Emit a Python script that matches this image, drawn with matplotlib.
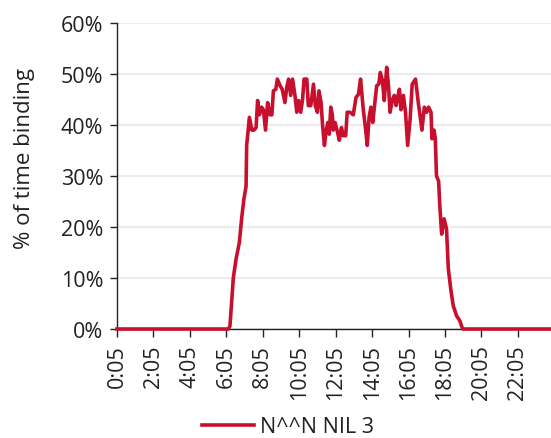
import matplotlib
matplotlib.use("Agg")
import matplotlib.pyplot as plt
from matplotlib.ticker import FixedLocator, PercentFormatter

plt.rcParams["font.family"] = ["Open Sans", "DejaVu Sans"]

# readings: minutes since midnight -> % of time binding
minutes = [5, 372, 377, 388, 397, 408, 416, 423, 430, 432, 441, 449, 456, 463,
           468, 474, 481, 487, 494, 501, 509, 515, 520, 528, 533, 542, 549, 558,
           564, 570, 577, 583, 591, 597, 603, 610, 616, 621, 630, 635, 643, 652,
           658, 665, 670, 677, 682, 688, 693, 699, 704, 709, 714, 717, 723, 731,
           737, 744, 750, 758, 763, 772, 783, 792, 800, 807, 816, 824, 829, 835,
           841, 847, 853, 860, 867, 872, 879, 885, 893, 899, 904, 912, 918, 924,
           929, 935, 940, 948, 955, 962, 970, 977, 988, 997, 1003, 1009, 1017,
           1025, 1031, 1039, 1042, 1049, 1053, 1057, 1064, 1068, 1074, 1082,
           1090, 1096, 1104, 1112, 1123, 1134, 1143, 1440]
binding = [0, 0, 0.6, 10, 13.7, 17, 22, 25.5, 28, 36, 41.5, 39, 39, 39.5,
           44.8, 42, 43.5, 43, 39, 44.4, 42, 42, 46.7, 47, 49, 47.7, 47, 44.4,
           47.4, 49, 45.8, 49, 45.8, 42.5, 44.8, 42.5, 45, 49, 49, 43.8, 43.8, 48,
           43.8, 42.5, 46.7, 44.4, 39.9, 36, 38.6, 40.5, 38.2, 43.5, 42, 39, 40.5, 38.6,
           37, 39.5, 37.9, 37.9, 42.5, 42.5, 42, 45.4, 46, 49, 43, 39, 36, 41.5,
           43.5, 40.5, 43.8, 47.7, 48, 50.3, 48.7, 44.8, 51.3, 47.7, 42.5, 45, 45.8, 43.8,
           45.4, 47, 43, 45.8, 42.5, 36, 41, 48, 49, 44.4, 41.8, 39, 43.5,
           42.5, 43.5, 42.5, 37.3, 39, 37.3, 30, 29, 24, 18.6, 21.6,
           19.6, 11.8, 7.8, 4.6, 2.6, 1.6, 0, 0]

tick_minutes = [5 + 120 * k for k in range(12)]
tick_labels = [f"{m // 60}:{m % 60:02d}" for m in tick_minutes]
series_name = "N^^N NIL 3"

text_color = "#222222"
line_color = "#C8102E"

fig = plt.figure(figsize=(5.51, 4.39), dpi=100)
ax = fig.add_axes([0.2123, 0.2483, 0.7877, 0.697])

ax.plot(minutes, binding, color=line_color, linewidth=2.6, label=series_name,
        solid_joinstyle="round", clip_on=False, zorder=3)

ax.set_xlim(5, 1434)
ax.set_ylim(0, 60)
ax.yaxis.set_major_locator(FixedLocator(range(0, 61, 10)))
ax.yaxis.set_major_formatter(PercentFormatter(decimals=0))
ax.set_xticks(tick_minutes)
ax.set_xticklabels(tick_labels, rotation=90)

ax.grid(axis="y", color="#ececec", linewidth=1.5)
ax.set_axisbelow(True)
for side in ("top", "right"):
    ax.spines[side].set_visible(False)
for side in ("left", "bottom"):
    ax.spines[side].set_color("#222222")
    ax.spines[side].set_linewidth(1.0)

ax.tick_params(axis="both", colors=text_color, labelsize=15.5, width=1.0)
ax.tick_params(axis="y", length=5, pad=5)
ax.tick_params(axis="x", length=6, pad=5)

ax.set_ylabel("% of time binding", fontsize=16, color=text_color)
ax.yaxis.set_label_coords(-0.19, 0.56)

fig.legend(loc="center", bbox_to_anchor=(288 / 551, 1 - 428 / 439), frameon=False,
           fontsize=15.5, handlelength=2.4, handletextpad=0.3, labelcolor=text_color)

fig.savefig("out.png", dpi=100)
